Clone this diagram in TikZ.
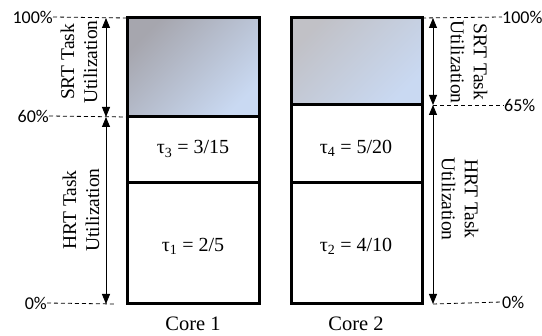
\documentclass[tikz,border=0pt]{standalone}
\usepackage{fontspec}
\setmainfont{Liberation Serif}
\newfontfamily\pctfont{Carlito}
\usetikzlibrary{arrows.meta}
\definecolor{shadeA}{HTML}{A6A6AE}
\definecolor{shadeB}{HTML}{C9D9F2}
\begin{document}
\begin{tikzpicture}[x=1pt,y=-1pt,
  box/.style={line width=3pt},
  dimline/.style={{Triangle[length=10pt,width=8pt]}-{Triangle[length=10pt,width=8pt]}, line width=0.9pt},
  guide/.style={line width=0.8pt, dash pattern=on 4pt off 3pt},
  pct/.style={font=\pctfont\fontsize{18}{18}\selectfont, inner sep=0pt},
  rot/.style={align=center, font=\fontsize{19.5}{23}\selectfont, inner sep=0pt},
  task/.style={font=\fontsize{20}{20}\selectfont, inner sep=0pt},
  corelbl/.style={font=\fontsize{20.5}{20}\selectfont, inner sep=0pt}]
\useasboundingbox (0,0) rectangle (542,336);
% shaded SRT areas
\shade[top color=shadeA, bottom color=shadeB, shading angle=45] (127,18) rectangle (259,117);
\shade[top color=shadeA!70!white, bottom color=shadeB, shading angle=45] (291,18) rectangle (422,105);
% boxes
\draw[box] (127,18) rectangle (259,304);
\draw[box] (127,117) -- (259,117);
\draw[box] (127,183) -- (259,183);
\draw[box] (291,18) rectangle (422,304);
\draw[box] (291,105) -- (422,105);
\draw[box] (291,183) -- (422,183);
% task labels
\node[task] (t3) at (193,149) {τ\textsubscript{3} = 3/15};
\node[task] (t1) at (193,246) {τ\textsubscript{1} = 2/5};
\node[task] (t4) at (356,148) {τ\textsubscript{4} = 5/20};
\node[task] (t2) at (356,246) {τ\textsubscript{2} = 4/10};
\node[corelbl] (c1) at (193,324) {Core 1};
\node[corelbl] (c2) at (356,324) {Core 2};
% left side coordinates
\coordinate (L100) at (106,18);
\coordinate (L60) at (106,117);
\coordinate (L0) at (106,304);
\coordinate (L100e) at (127,18);
\coordinate (L60e) at (127,117);
\coordinate (L0e) at (115,304);
\node[pct, anchor=east] (p100l) at (53,17) {100\%};
\node[pct, anchor=east] (p60l) at (49,116) {60\%};
\node[pct, anchor=east] (p0l) at (47,303) {0\%};
\draw[guide] (p100l.east) -- (L100e);
\draw[guide] (p60l.east) -- (L60e);
\draw[guide] (p0l.east) -- (L0e);
\draw[dimline] (L100) -- (L60);
\draw[dimline] (L60) -- (L0);
\node[rot, rotate=90] (srtl) at (79,62) {SRT Task\\Utilization};
\node[rot, rotate=90] (hrtl) at (81,210) {HRT Task\\Utilization};
% right side coordinates
\coordinate (R100) at (433,18);
\coordinate (R65) at (433,105);
\coordinate (R0) at (433,304);
\coordinate (R100s) at (422,18);
\coordinate (R65s) at (433,105);
\coordinate (R0s) at (433,304);
\node[pct, anchor=west] (p100r) at (502,17) {100\%};
\node[pct, anchor=west] (p65r) at (504,105) {65\%};
\node[pct, anchor=west] (p0r) at (502,302) {0\%};
\draw[guide] (R100s) -- (p100r.west);
\draw[guide] (R65s) -- (p65r.west);
\draw[guide] (R0s) -- (p0r.west);
\draw[dimline] (R100) -- (R65);
\draw[dimline] (R65) -- (R0);
\node[rot, rotate=-90] (srtr) at (469,62) {SRT Task\\Utilization};
\node[rot, rotate=-90] (hrtr) at (460,199) {HRT Task\\Utilization};
\end{tikzpicture}
\end{document}
